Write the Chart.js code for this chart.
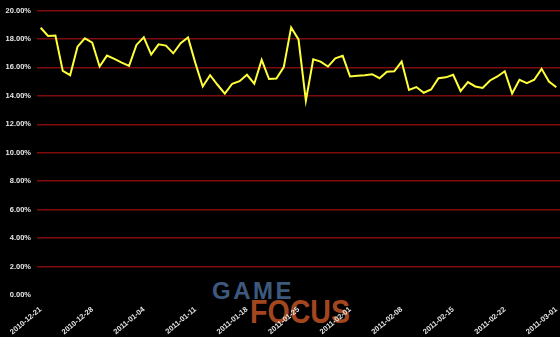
<!DOCTYPE html>
<html>
<head>
<meta charset="utf-8">
<script src="https://cdn.jsdelivr.net/npm/chart.js@4/dist/chart.umd.min.js"></script>
<style>
html,body{margin:0;padding:0;background:#000;}
#wrap{position:relative;width:560px;height:337px;background:#000;overflow:hidden;}
.logo{position:absolute;font-family:"Liberation Sans",Arial,sans-serif;font-weight:bold;line-height:1;white-space:nowrap;z-index:0;}
#g{left:212px;top:279px;font-size:24px;letter-spacing:2.5px;color:#3d5a7e;}
#f{left:250px;top:294px;font-size:34px;color:#a3461f;transform:scaleX(0.84);transform-origin:left top;}
canvas{position:absolute;left:0;top:0;z-index:1;}
</style>
</head>
<body>
<div id="wrap">
<div class="logo" id="g">GAME</div>
<div class="logo" id="f">FOCUS</div>
<canvas id="c" width="560" height="337"></canvas>
</div>
<script>
const startDate = "2010-12-21";
const dayCount = 71;
const values = [
18.79,18.21,18.24,15.75,15.45,17.46,18.04,17.74,16.06,16.83,
16.60,16.34,16.11,17.58,18.11,16.90,17.62,17.53,16.99,17.70,
18.11,16.30,14.66,15.45,14.78,14.15,14.85,15.03,15.48,14.85,
16.53,15.18,15.22,16.02,18.81,17.97,13.66,16.57,16.41,16.06,
16.64,16.81,15.36,15.41,15.45,15.52,15.24,15.69,15.73,16.41,
14.41,14.62,14.22,14.45,15.24,15.30,15.48,14.34,14.97,14.66,
14.55,15.08,15.36,15.73,14.17,15.13,14.90,15.13,15.90,15.01,
14.60
];
const yTicks = [0,2,4,6,8,10,12,14,16,18,20];
const labelEvery = 7;

function pad(n){return n<10?'0'+n:''+n;}
const categories = [];
{
  const d0 = new Date(startDate + "T00:00:00Z");
  for (let i=0;i<dayCount;i++){
    const d = new Date(d0.getTime() + i*86400000);
    categories.push(d.getUTCFullYear()+'-'+pad(d.getUTCMonth()+1)+'-'+pad(d.getUTCDate()));
  }
}

const font = {family:'"Liberation Sans", Arial, sans-serif', size:7.5, weight:'bold'};

new Chart(document.getElementById('c'), {
  type:'line',
  data:{
    labels:categories,
    datasets:[{
      data:values,
      borderColor:'#ffff3a',
      borderWidth:2,
      pointRadius:0,
      tension:0,
      fill:false
    }]
  },
  options:{
    responsive:false,
    animation:false,
    devicePixelRatio:1,
    layout:{padding:{top:8,right:-3,left:0,bottom:0}},
    plugins:{legend:{display:false},tooltip:{enabled:false}},
    scales:{
      x:{
        offset:true,
        grid:{display:false},
        border:{display:false},
        afterFit:(s)=>{s.height=42;s.paddingRight=0;},
        ticks:{
          autoSkip:false,
          minRotation:40,
          maxRotation:40,
          padding:2,
          color:'#e8e8e8',
          font:font,
          callback:function(v,i){return i%labelEvery===0?categories[i]:'';}
        }
      },
      y:{
        min:0,max:20,
        afterFit:(s)=>{s.width=37;},
        afterBuildTicks:(s)=>{s.ticks=yTicks.map(v=>({value:v}));},
        border:{display:false},
        grid:{
          color:(ctx)=>ctx.tick && ctx.tick.value===0?'rgba(0,0,0,0)':'#7e0c0c',
          lineWidth:1.5,
          drawTicks:false
        },
        ticks:{
          color:'#e8e8e8',
          font:font,
          padding:6,
          callback:(v)=>v.toFixed(2)+'%'
        }
      }
    }
  }
});
</script>
</body>
</html>
